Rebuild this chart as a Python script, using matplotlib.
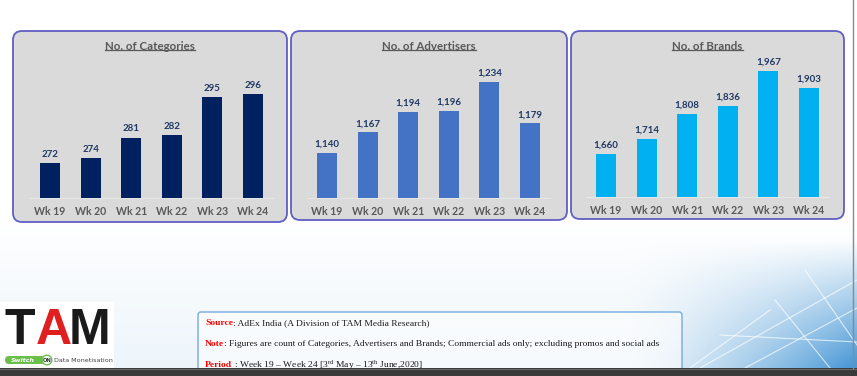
import matplotlib
matplotlib.use('Agg')
import matplotlib.pyplot as plt
from matplotlib.patches import FancyBboxPatch, Rectangle, Circle
import numpy as np

plt.rcParams['mathtext.fontset'] = 'custom'
plt.rcParams['mathtext.rm'] = 'Liberation Serif'

# ---------------- data ----------------
weeks = ['Wk 19', 'Wk 20', 'Wk 21', 'Wk 22', 'Wk 23', 'Wk 24']
categories = [272, 274, 281, 282, 295, 296]
advertisers = [1140, 1167, 1194, 1196, 1234, 1179]
brands = [1660, 1714, 1808, 1836, 1967, 1903]
titles = ['No. of Categories', 'No. of Advertisers', 'No. of Brands']
bar_colors = ['#002060', '#4472C4', '#00B0F0']
y_floors = [260, 1080, 1500]
y_ceils = [308, 1263, 2010]

W, H = 857, 376
fig = plt.figure(figsize=(W / 100, H / 100), dpi=100)
bg = fig.add_axes([0, 0, 1, 1])
bg.set_xlim(0, W)
bg.set_ylim(H, 0)
bg.axis('off')

# background wash
yy, xx = np.mgrid[0:H, 0:W]
wash = np.clip((yy - 220) / 150, 0, 1) * 0.10
corner = np.clip((xx - 620) / 237, 0, 1) ** 1.4 * np.clip((yy - 240) / 128, 0, 1)
inten = np.clip(wash + corner * 0.95, 0, 1)
blue = np.array([0.29, 0.60, 0.84])
img = 1 - inten[..., None] * (1 - blue)
bg.imshow(img, extent=(0, W, H, 0), aspect='auto', zorder=0)

for (xa, ya, xb, yb) in [(700, 368, 857, 280), (745, 368, 857, 308), (775, 300, 830, 368),
                         (805, 270, 857, 345), (720, 335, 857, 342), (690, 368, 770, 310)]:
    bg.plot([xa, xb], [ya, yb], color='white', lw=0.8, alpha=0.7, zorder=1)

# panels
panels = [(13, 31, 287, 222), (291, 31, 567, 220), (571, 31, 844, 219)]
for (x0, y0, x1, y1) in panels:
    bg.add_patch(FancyBboxPatch((x0, y0), x1 - x0, y1 - y0,
                                boxstyle='round,pad=0,rounding_size=9',
                                fc='#dadada', ec='#5f5fc4', lw=1.3, zorder=2))

# bar axes (left px, baseline px)
axes_pos = [(29.7, 198), (306.7, 198), (585.7, 197)]
series = [categories, advertisers, brands]
title_texts = []
for k in range(3):
    lp, base = axes_pos[k]
    ax = fig.add_axes([lp / W, (H - base) / H, 243.6 / W, 138 / H])
    ax.set_facecolor('none')
    vals = series[k]
    x = np.arange(len(weeks))
    ax.bar(x, vals, width=0.49, color=bar_colors[k], zorder=3)
    ax.set_xlim(-0.5, len(weeks) - 0.5)
    ax.set_ylim(y_floors[k], y_ceils[k])
    for i, v in enumerate(vals):
        ax.annotate(f'{v:,}', (i, v), xytext=(0, 3), textcoords='offset points',
                    ha='center', va='bottom', fontsize=7, fontweight='bold',
                    color='#1f3864', family='Lato', annotation_clip=False)
    ax.set_xticks(x)
    ax.set_xticklabels(weeks, fontsize=7.6, fontweight='bold', color='#595959', family='Lato')
    ax.tick_params(axis='x', length=0, pad=6)
    ax.set_yticks([])
    for s in ['top', 'right', 'left']:
        ax.spines[s].set_visible(False)
    ax.spines['bottom'].set_color('#e6e6e6')
    ax.spines['bottom'].set_linewidth(0.8)
    cx = (panels[k][0] + panels[k][2]) / 2
    t = bg.text(cx, 46, titles[k], ha='center', va='center', fontsize=8.3,
                fontweight='bold', color='#595959', family='Lato', zorder=5)
    title_texts.append(t)

# logo
bg.add_patch(Rectangle((0, 302), 114, 66, fc='white', ec='none', zorder=3))
bg.text(20, 344, 'T', ha='center', va='baseline', fontsize=36, fontweight='bold',
        color='#1a1a1a', family='Liberation Sans', zorder=4)
bg.text(54, 344, 'A', ha='center', va='baseline', fontsize=36, fontweight='bold',
        color='#e02020', family='Liberation Sans', zorder=4)
bg.text(90, 344, 'M', ha='center', va='baseline', fontsize=36, fontweight='bold',
        color='#1a1a1a', family='Liberation Sans', zorder=4)
bg.add_patch(FancyBboxPatch((5, 356), 40, 8, boxstyle='round,pad=0,rounding_size=4',
                            fc='#6abf4b', ec='none', zorder=4))
bg.text(23, 360.5, 'Switch', ha='center', va='center', fontsize=4.6, style='italic',
        fontweight='bold', color='white', zorder=5)
bg.add_patch(Circle((47, 360), 4.8, fc='white', ec='#6abf4b', lw=1, zorder=5))
bg.text(47, 360.5, 'ON', ha='center', va='center', fontsize=3.8, fontweight='bold',
        color='#333333', zorder=6)
bg.text(54, 360.5, 'Data Monetisation', ha='left', va='center', fontsize=4.6,
        color='#444444', zorder=5)

# notes box
bg.add_patch(FancyBboxPatch((198, 312), 484, 62, boxstyle='round,pad=0,rounding_size=3',
                            fc=(1, 1, 1, 0.55), ec='#7fb2e0', lw=1.1, zorder=3))
notes = [('Source', ': AdEx India (A Division of TAM Media Research)', 323),
         ('Note', ': Figures are count of Categories, Advertisers and Brands; Commercial ads only; excluding promos and social ads', 344),
         ('Period', ' : Week 19 \u2013 Week 24 [3$^{\\mathrm{rd}}$ May \u2013 13$^{\\mathrm{th}}$ June,2020]', 365)]
for lab, rest, yy_ in notes:
    t0 = bg.text(205, yy_, lab, ha='left', va='center', fontsize=6.8, fontweight='bold',
                 color='#ff0000', family='Liberation Serif', zorder=5)
    bg.annotate(rest, xy=(1, 0.5), xycoords=t0, ha='left', va='center', fontsize=6.8,
                color='#1a1a1a', family='Liberation Serif', zorder=5)

# bottom strip and right edge
bg.add_patch(Rectangle((0, 368), W, 8, fc='#3a3a3a', ec='none', zorder=7))
bg.plot([0, W], [368.5, 368.5], color='#6a6a6a', lw=0.8, zorder=8)
bg.plot([853, 853], [0, 368], color='#8a8a8a', lw=1, zorder=8)

# underline titles
fig.canvas.draw()
r = fig.canvas.get_renderer()
inv = bg.transData.inverted()
for t in title_texts:
    bb = t.get_window_extent(r)
    (xa, ya) = inv.transform((bb.x0, bb.y0))
    (xb, _) = inv.transform((bb.x1, bb.y0))
    bg.plot([xa, xb], [ya - 1.5, ya - 1.5], color='#595959', lw=0.9, zorder=6)

fig.savefig('out.png', dpi=100)
